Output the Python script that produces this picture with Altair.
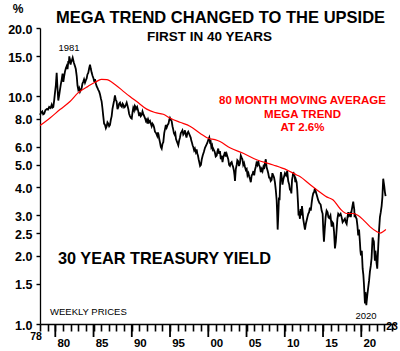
import altair as alt
import pandas as pd

# ---------------- data ----------------
# weekly 30-year yield, (decimal year, % yield)
weekly = [
    (1978.00, 8.3), (1978.15, 8.5), (1978.30, 8.6), (1978.42, 8.35), (1978.55, 8.4), (1978.70, 8.7),
    (1978.88, 8.8), (1979.05, 8.75), (1979.20, 9.0), (1979.38, 8.9), (1979.53, 9.2), (1979.64, 8.95),
    (1979.74, 9.0), (1979.85, 9.6), (1979.96, 10.4), (1980.07, 11.2), (1980.18, 12.7), (1980.28, 11.0),
    (1980.39, 9.6), (1980.50, 10.1), (1980.61, 10.7), (1980.72, 11.3), (1980.84, 11.9), (1980.95, 12.6),
    (1981.05, 11.6), (1981.16, 12.3), (1981.27, 12.9), (1981.38, 13.3), (1981.49, 13.6), (1981.60, 13.2),
    (1981.70, 14.3), (1981.77, 14.0), (1981.83, 15.0), (1981.89, 14.6), (1981.95, 14.4), (1982.00, 13.8),
    (1982.05, 14.1), (1982.16, 14.4), (1982.27, 14.8), (1982.42, 14.1), (1982.57, 13.6), (1982.68, 13.2),
    (1982.80, 12.3), (1982.90, 11.2), (1983.01, 10.7), (1983.12, 10.9), (1983.23, 10.5), (1983.34, 10.7),
    (1983.45, 10.9), (1983.55, 11.4), (1983.65, 11.6), (1983.76, 11.9), (1983.88, 11.5), (1984.00, 11.8),
    (1984.10, 12.0), (1984.20, 12.5), (1984.31, 12.7), (1984.43, 13.3), (1984.54, 13.8), (1984.65, 13.2),
    (1984.76, 12.7), (1984.88, 12.3), (1985.00, 12.0), (1985.10, 11.6), (1985.19, 11.9), (1985.30, 11.4),
    (1985.40, 11.1), (1985.51, 10.9), (1985.62, 10.7), (1985.74, 10.5), (1985.85, 10.2), (1985.96, 9.8),
    (1986.06, 9.5), (1986.16, 8.9), (1986.27, 8.2), (1986.38, 7.6), (1986.50, 7.5), (1986.61, 7.25),
    (1986.72, 7.4), (1986.82, 7.7), (1986.93, 7.6), (1987.04, 7.4), (1987.15, 7.5), (1987.26, 7.9),
    (1987.37, 8.2), (1987.47, 8.8), (1987.58, 9.2), (1987.69, 9.6), (1987.80, 10.1), (1987.90, 9.7),
    (1988.02, 9.5), (1988.13, 8.8), (1988.25, 9.0), (1988.35, 9.3), (1988.46, 9.4), (1988.58, 9.1),
    (1988.70, 9.0), (1988.80, 9.3), (1988.89, 9.2), (1989.00, 8.95), (1989.10, 9.0), (1989.22, 9.2),
    (1989.33, 9.4), (1989.44, 9.1), (1989.55, 8.8), (1989.65, 8.4), (1989.76, 8.2), (1989.88, 8.05),
    (1989.99, 8.0), (1990.09, 8.5), (1990.19, 8.9), (1990.30, 8.7), (1990.40, 9.1), (1990.48, 9.0),
    (1990.55, 8.8), (1990.70, 9.0), (1990.85, 8.6), (1990.96, 8.2), (1991.07, 8.5), (1991.18, 8.2),
    (1991.30, 8.3), (1991.40, 8.6), (1991.50, 8.4), (1991.62, 8.2), (1991.75, 8.0), (1991.85, 7.8),
    (1991.95, 7.9), (1992.05, 7.6), (1992.15, 7.9), (1992.26, 7.7), (1992.38, 7.8), (1992.49, 7.6),
    (1992.60, 7.4), (1992.70, 7.6), (1992.81, 7.5), (1992.92, 7.3), (1993.03, 7.0), (1993.18, 6.9),
    (1993.33, 6.7), (1993.42, 6.95), (1993.50, 6.8), (1993.59, 6.5), (1993.68, 6.3), (1993.80, 6.0),
    (1993.91, 5.9), (1994.02, 6.2), (1994.12, 6.3), (1994.24, 6.9), (1994.35, 7.2), (1994.45, 7.5),
    (1994.56, 7.3), (1994.68, 7.5), (1994.80, 7.6), (1994.90, 7.9), (1994.99, 8.05), (1995.10, 7.9),
    (1995.21, 7.8), (1995.32, 7.4), (1995.42, 7.15), (1995.51, 6.9), (1995.60, 6.8), (1995.69, 6.9),
    (1995.78, 6.5), (1995.93, 6.3), (1996.08, 6.1), (1996.19, 6.4), (1996.30, 6.6), (1996.41, 6.9),
    (1996.52, 7.0), (1996.62, 7.1), (1996.73, 6.8), (1996.84, 6.9), (1996.95, 7.1), (1997.05, 6.8),
    (1997.15, 6.6), (1997.27, 6.9), (1997.38, 7.0), (1997.54, 6.8), (1997.70, 6.6), (1997.78, 6.4),
    (1997.85, 6.3), (1997.95, 6.1), (1998.04, 6.0), (1998.15, 5.8), (1998.25, 5.9), (1998.37, 5.7),
    (1998.48, 5.85), (1998.57, 5.6), (1998.65, 5.5), (1998.74, 5.3), (1998.82, 5.15), (1998.93, 4.95),
    (1999.04, 5.0), (1999.15, 5.3), (1999.27, 5.5), (1999.42, 5.7), (1999.57, 5.95), (1999.72, 6.1),
    (1999.87, 6.25), (2000.00, 6.45), (2000.13, 6.6), (2000.22, 6.3), (2000.31, 6.35), (2000.40, 6.0),
    (2000.50, 6.1), (2000.58, 5.85), (2000.65, 5.9), (2000.75, 5.8), (2000.85, 5.7), (2000.97, 5.45),
    (2001.10, 5.5), (2001.20, 5.75), (2001.30, 5.9), (2001.42, 5.6), (2001.53, 5.75), (2001.64, 5.3),
    (2001.75, 5.5), (2001.86, 5.15), (2001.96, 5.4), (2002.07, 5.55), (2002.18, 5.7), (2002.29, 5.45),
    (2002.40, 5.6), (2002.50, 5.45), (2002.61, 5.3), (2002.72, 5.0), (2002.83, 4.95), (2002.95, 5.1),
    (2003.06, 5.15), (2003.16, 5.0), (2003.25, 4.9), (2003.36, 4.7), (2003.43, 4.5), (2003.49, 4.25),
    (2003.60, 4.8), (2003.71, 5.0), (2003.80, 5.25), (2003.90, 5.2), (2004.02, 4.95), (2004.14, 5.1),
    (2004.25, 5.5), (2004.35, 5.4), (2004.46, 5.3), (2004.57, 5.0), (2004.68, 5.1), (2004.80, 4.9),
    (2004.91, 4.75), (2005.02, 4.8), (2005.13, 4.5), (2005.25, 4.6), (2005.35, 4.45), (2005.45, 4.35),
    (2005.56, 4.2), (2005.67, 4.5), (2005.78, 4.55), (2005.90, 4.7), (2006.00, 4.5), (2006.10, 4.75),
    (2006.20, 4.9), (2006.30, 5.1), (2006.42, 5.0), (2006.53, 5.2), (2006.64, 5.0), (2006.75, 4.9),
    (2006.86, 4.65), (2006.98, 4.8), (2007.09, 4.7), (2007.20, 4.9), (2007.30, 4.8), (2007.41, 5.1),
    (2007.52, 5.3), (2007.62, 4.9), (2007.73, 4.75), (2007.84, 4.6), (2007.95, 4.4), (2008.05, 4.4),
    (2008.16, 4.25), (2008.28, 4.3), (2008.38, 4.6), (2008.49, 4.5), (2008.60, 4.4), (2008.71, 4.2),
    (2008.82, 3.9), (2008.94, 3.5), (2009.00, 3.1), (2009.07, 2.6), (2009.15, 3.0), (2009.24, 3.6),
    (2009.32, 3.5), (2009.40, 4.2), (2009.50, 4.65), (2009.59, 4.45), (2009.70, 4.1), (2009.80, 4.3),
    (2009.91, 4.45), (2010.02, 4.6), (2010.17, 4.5), (2010.32, 4.7), (2010.45, 4.25), (2010.58, 4.1),
    (2010.67, 3.9), (2010.77, 3.9), (2010.86, 3.75), (2010.95, 4.3), (2011.03, 4.45), (2011.11, 4.65),
    (2011.20, 4.55), (2011.30, 4.45), (2011.38, 4.2), (2011.46, 4.3), (2011.55, 4.2), (2011.63, 3.9),
    (2011.73, 3.4), (2011.80, 3.0), (2011.89, 3.05), (2011.98, 2.9), (2012.07, 3.2), (2012.16, 3.0),
    (2012.25, 3.3), (2012.33, 3.1), (2012.41, 2.9), (2012.52, 2.75), (2012.64, 2.6), (2012.75, 2.75),
    (2012.86, 2.85), (2012.96, 2.95), (2013.07, 3.05), (2013.18, 3.1), (2013.29, 3.25), (2013.40, 3.15),
    (2013.51, 3.4), (2013.61, 3.6), (2013.72, 3.75), (2013.83, 3.8), (2013.94, 3.95), (2014.06, 3.8),
    (2014.17, 3.7), (2014.27, 3.6), (2014.37, 3.5), (2014.53, 3.4), (2014.69, 3.35), (2014.82, 3.15),
    (2014.95, 3.05), (2015.03, 2.6), (2015.12, 2.3), (2015.22, 2.6), (2015.34, 2.95), (2015.47, 3.15),
    (2015.60, 3.1), (2015.70, 2.95), (2015.81, 2.92), (2015.97, 3.0), (2016.13, 2.68), (2016.23, 2.8),
    (2016.33, 2.77), (2016.44, 2.55), (2016.56, 2.15), (2016.67, 2.3), (2016.78, 2.6), (2016.88, 2.9),
    (2016.99, 3.05), (2017.15, 3.0), (2017.30, 3.05), (2017.43, 2.95), (2017.56, 2.8), (2017.71, 2.85),
    (2017.86, 2.9), (2017.97, 2.8), (2018.09, 2.75), (2018.20, 2.95), (2018.30, 3.1), (2018.41, 3.0),
    (2018.52, 3.05), (2018.63, 2.95), (2018.74, 3.15), (2018.85, 3.3), (2018.95, 3.45), (2019.02, 3.3),
    (2019.08, 3.2), (2019.13, 2.95), (2019.17, 3.05), (2019.28, 2.95), (2019.39, 2.9), (2019.50, 2.7),
    (2019.60, 2.45), (2019.71, 2.6), (2019.82, 2.3), (2019.89, 2.1), (2019.96, 2.0), (2020.07, 2.1),
    (2020.18, 1.75), (2020.27, 1.65), (2020.35, 1.5), (2020.42, 1.35), (2020.48, 1.23), (2020.54, 1.38),
    (2020.61, 1.3), (2020.66, 1.21), (2020.70, 1.25), (2020.80, 1.35), (2020.91, 1.45), (2021.02, 1.55),
    (2021.13, 1.7), (2021.24, 1.8), (2021.35, 1.95), (2021.42, 2.2), (2021.48, 2.4), (2021.56, 2.35),
    (2021.65, 2.3), (2021.72, 2.05), (2021.78, 1.9), (2021.85, 2.1), (2021.92, 2.0), (2022.00, 1.85),
    (2022.09, 1.75), (2022.15, 1.95), (2022.22, 2.2), (2022.33, 2.6), (2022.44, 2.95), (2022.55, 3.1),
    (2022.66, 3.3), (2022.76, 3.6), (2022.82, 4.0), (2022.87, 4.35), (2022.93, 4.2), (2023.00, 4.05),
    (2023.09, 3.8), (2023.18, 3.65),
]
# 80-month moving average, (decimal year, %)
moving_avg = [
    (1978.00, 7.45), (1979.31, 8.05), (1980.61, 8.76), (1981.92, 9.5), (1983.01, 10.4),
    (1984.31, 11.1), (1985.41, 11.65), (1986.06, 11.9), (1986.72, 11.85), (1987.80, 11.3),
    (1989.11, 10.4), (1989.76, 10.0), (1990.64, 9.5), (1991.95, 8.8), (1993.03, 8.5),
    (1994.12, 8.35), (1994.99, 8.05), (1996.30, 7.7), (1997.60, 7.4), (1998.91, 6.9),
    (2000.00, 6.55), (2000.87, 6.46), (2001.53, 6.34), (2002.83, 5.95), (2004.57, 5.63),
    (2006.32, 5.27), (2008.49, 5.0), (2010.24, 4.76), (2011.55, 4.52), (2011.98, 4.45),
    (2013.29, 4.1), (2014.17, 3.89), (2015.47, 3.62), (2016.33, 3.51), (2017.21, 3.22),
    (2018.09, 3.06), (2018.95, 3.06), (2019.60, 3.0), (2020.26, 2.87), (2021.13, 2.68),
    (2022.00, 2.55), (2022.44, 2.51), (2022.87, 2.55), (2023.22, 2.6),
]
y_ticks = [1.0, 1.5, 2.0, 2.5, 3.0, 4.0, 5.0, 6.0, 8.0, 10.0, 15.0, 20.0]
minor_years = list(range(1978, 2025))
major_years = [1980, 1985, 1990, 1995, 2000, 2005, 2010, 2015, 2020]

title_text = "MEGA TREND CHANGED TO THE UPSIDE"
subtitle_text = "FIRST IN 40 YEARS"
ma_note = ["80 MONTH MOVING AVERAGE", "MEGA TREND", "AT 2.6%"]
series_label = "30 YEAR TREASURY YIELD"
freq_label = "WEEKLY PRICES"
peak_label = "1981"
low_label = "2020"
start_label = "78"
end_label = "23"
unit_label = "%"

# ---------------- chart ----------------
FONT = "Liberation Sans"
W, H = 355, 296
X0, Y0 = 40, 28

df_w = pd.DataFrame(weekly, columns=["year", "y"])
df_ma = pd.DataFrame(moving_avg, columns=["year", "y"])
df_major = pd.DataFrame({"year": major_years})

xscale = alt.Scale(domain=[1978, 2024.41], nice=False, zero=False)
yscale = alt.Scale(type="log", domain=[1, 20], nice=False)

x_axis = alt.Axis(
    values=minor_years, tickSize=7, tickColor="black", tickWidth=1.6,
    domainColor="black", domainWidth=1.3,
    labelExpr="(datum.value % 5 == 0 && datum.value >= 1980 && datum.value <= 2020) ? substring(toString(datum.value), 2) : ''",
    labelOffset=8, labelPadding=12, labelBaseline="middle", labelAlign="center",
    labelFont=FONT, labelFontSize=11.5, labelFontWeight="bold", labelColor="black",
    labelOverlap=False, labelFlush=False, grid=False, title=None,
)
y_axis = alt.Axis(
    values=y_ticks, format=".1f", tickSize=4, tickColor="black", tickWidth=1.4,
    domainColor="black", domainWidth=1.3, labelPadding=4, labelOffset=1,
    labelFont=FONT, labelFontSize=12.5, labelFontWeight="bold", labelColor="black",
    labelOverlap=False, labelFlush=False, grid=False, title=None,
)

x_enc = alt.X("year:Q", scale=xscale, axis=x_axis)
y_enc = alt.Y("y:Q", scale=yscale, axis=y_axis)

black = alt.Chart(df_w).mark_line(color="black", strokeWidth=1.8).encode(x=x_enc, y=y_enc)
red = alt.Chart(df_ma).mark_line(color="#ff0000", strokeWidth=1.2, interpolate="monotone").encode(x=x_enc, y=y_enc)
majors = alt.Chart(df_major).mark_rule(color="black", strokeWidth=1.8).encode(
    x=x_enc, y=alt.value(H), y2=alt.value(H + 13))


def txt(s, x, y, size, color="black", weight="bold", align="center"):
    return alt.Chart(pd.DataFrame({"t": [s]})).mark_text(
        font=FONT, fontSize=size, fontWeight=weight, color=color,
        align=align, baseline="middle",
    ).encode(text="t:N", x=alt.value(x - X0), y=alt.value(y - Y0))


texts = [
    txt(unit_label, 18, 9, 12),
    txt(title_text, 220.5, 18, 16.5),
    txt(subtitle_text, 209.5, 37, 13.5),
    txt(peak_label, 69, 48, 9.5, weight="normal"),
    txt(ma_note[0], 302.5, 101, 11.5, color="#ff0000"),
    txt(ma_note[1], 302.5, 115, 11.5, color="#ff0000"),
    txt(ma_note[2], 302.5, 128, 11.5, color="#ff0000"),
    txt(series_label, 58, 259, 16.3, align="left"),
    txt(freq_label, 50, 312, 9.5, weight="normal", align="left"),
    txt(low_label, 366, 316, 9.5, weight="normal"),
    txt(start_label, 36, 337, 10.5, align="center"),
    txt(end_label, 392, 327, 10.5, align="center"),
]

chart = alt.layer(black, red, majors, *texts).properties(
    width=W, height=H, autosize="none",
    padding={"left": X0, "top": Y0, "right": 5, "bottom": 27},
    background="white",
).configure_view(stroke=None)

chart.save("out.html", embed_options={"renderer": "svg", "actions": False})
